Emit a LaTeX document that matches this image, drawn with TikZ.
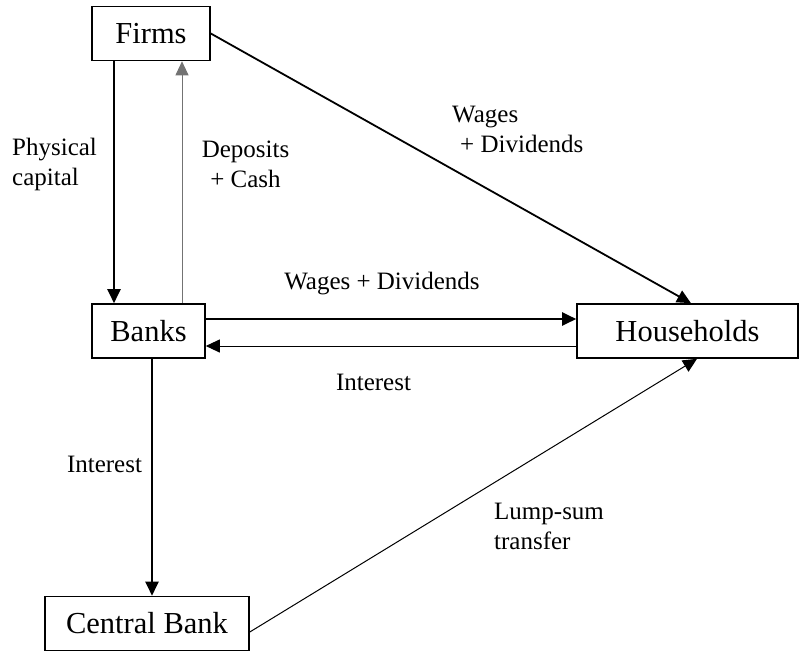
\documentclass[tikz,border=0pt]{standalone}
\usepackage{fontspec}
\setmainfont{Liberation Serif}
\usetikzlibrary{arrows.meta}

\begin{document}
\begin{tikzpicture}[x=1pt,y=-1pt,>={Triangle[length=14pt,width=13pt]},
    main node/.style={draw,line width=1.6pt,minimum height=54pt,inner sep=0pt,font=\fontsize{30.5}{36}\selectfont},
    flow label/.style={inner sep=0pt,font=\fontsize{25}{30}\selectfont},
    heavy/.style={->,line width=2.2pt},
    light/.style={->,line width=1pt}]

            \useasboundingbox (0,0) rectangle (806,651);

            \node[main node, minimum width=118pt] (firms) at (151,33.5) {Firms};
            \node[main node, minimum width=113pt] (banks)[below of = firms, node distance=297.5pt, xshift=-2.5pt] {Banks};
            \node[main node, minimum width=221pt] (hh)[right of = banks, node distance=539pt] {Households};
            \node[main node, minimum width=204pt] (cb)[below of = banks, node distance=292.5pt, xshift=-1.5pt] {Central Bank};

            \node[flow label, align=left, anchor=west] (phys) at (12,164) {Physical\\capital};
            \node[flow label, align=center] (depo) at (245.5,164) {Deposits\\+ Cash};
            \node[flow label, align=left, anchor=west] (wdf) at (452,129) {Wages\\\hspace{8pt}+ Dividends};
            \node[flow label] (wdb)[above of = banks, node distance=47pt, xshift=233.5pt] {Wages + Dividends};
            \node[flow label] (intb)[below of = banks, node distance=51pt, xshift=225pt] {Interest};
            \node[flow label] (intc) at (104.5,464) {Interest};
            \node[flow label, align=left, anchor=west] (lump) at (494,526) {Lump-sum\\transfer};

            \draw[heavy] ([xshift=-37pt]firms.south) -- ([xshift=-37pt]firms.south |- banks.north);
            \draw[light, draw=black!55, fill=black!55] ([xshift=31pt]firms.south |- banks.north) -- ([xshift=31pt]firms.south);
            \draw[heavy, line width=1.8pt] (firms.east) -- ([xshift=3.5pt]hh.north);
            \draw[heavy] ([yshift=12pt]banks.east) -- ([yshift=12pt]banks.east -| hh.west);
            \draw[light] ([yshift=-15pt]banks.east -| hh.west) -- ([yshift=-15pt]banks.east);
            \draw[heavy] ([xshift=3.5pt]banks.south) -- ([xshift=3.5pt]banks.south |- cb.north);
            \draw[light] ([yshift=-8.5pt]cb.east) -- ([xshift=9.5pt]hh.south);
        \end{tikzpicture}
\end{document}
